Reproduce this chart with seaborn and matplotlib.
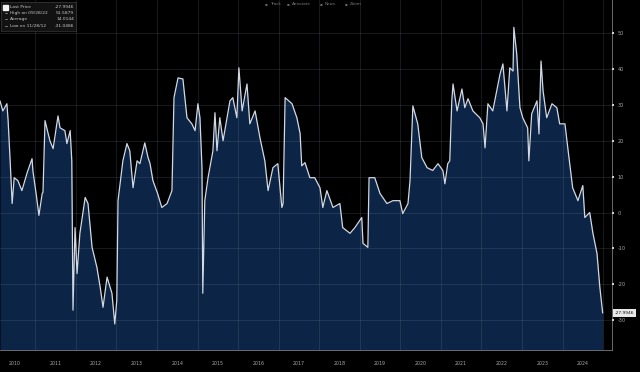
import matplotlib
matplotlib.use("Agg")
import matplotlib.pyplot as plt
import numpy as np
import pandas as pd
import seaborn as sns
from matplotlib.transforms import blended_transform_factory

# ---- data (decimal year, value) ----
dates = [
    2010.13, 2010.20, 2010.30, 2010.33, 2010.38, 2010.43, 2010.48, 2010.57, 2010.67, 2010.80,
    2010.92, 2010.94, 2011.02, 2011.09, 2011.17, 2011.19, 2011.24, 2011.36, 2011.44, 2011.56,
    2011.61, 2011.73, 2011.78, 2011.86, 2011.90, 2011.93, 2011.98, 2012.03, 2012.10, 2012.23,
    2012.30, 2012.40, 2012.52, 2012.60, 2012.67, 2012.77, 2012.89, 2012.96, 2013.01, 2013.04,
    2013.09, 2013.16, 2013.26, 2013.33, 2013.41, 2013.51, 2013.58, 2013.70, 2013.78, 2013.83,
    2013.90, 2014.01, 2014.12, 2014.25, 2014.37, 2014.42, 2014.52, 2014.64, 2014.74, 2014.86,
    2014.94, 2015.01, 2015.06, 2015.11, 2015.13, 2015.18, 2015.26, 2015.38, 2015.43, 2015.48,
    2015.55, 2015.63, 2015.80, 2015.87, 2015.97, 2016.02, 2016.10, 2016.22, 2016.29, 2016.42,
    2016.54, 2016.66, 2016.74, 2016.86, 2016.98, 2017.08, 2017.11, 2017.16, 2017.33, 2017.45,
    2017.53, 2017.57, 2017.65, 2017.77, 2017.89, 2018.02, 2018.09, 2018.19, 2018.34, 2018.51,
    2018.58, 2018.76, 2018.88, 2019.05, 2019.08, 2019.20, 2019.23, 2019.37, 2019.50, 2019.67,
    2019.82, 2019.99, 2020.06, 2020.19, 2020.24, 2020.31, 2020.43, 2020.53, 2020.66, 2020.80,
    2020.93, 2021.05, 2021.10, 2021.17, 2021.22, 2021.27, 2021.30, 2021.40, 2021.52, 2021.59,
    2021.67, 2021.79, 2021.96, 2022.04, 2022.09, 2022.16, 2022.28, 2022.46, 2022.53, 2022.63,
    2022.70, 2022.78, 2022.80, 2022.87, 2022.95, 2023.02, 2023.14, 2023.17, 2023.24, 2023.37,
    2023.42, 2023.47, 2023.52, 2023.61, 2023.74, 2023.86, 2023.93, 2024.06, 2024.13, 2024.25,
    2024.38, 2024.50, 2024.55, 2024.67, 2024.75, 2024.85, 2024.92, 2024.99,
]
values = [
    31.1, 28.3, 30.3, 25.6, 14.4, 2.5, 9.7, 8.9, 6.1, 11.1,
    15.0, 11.7, 5.3, -0.8, 5.3, 5.6, 25.6, 20.0, 17.8, 26.9,
    23.6, 22.8, 19.2, 22.8, 14.4, -27.2, -4.2, -17.0, -5.8, 4.2,
    2.5, -9.7, -15.3, -20.8, -26.4, -18.0, -22.5, -31.05, -24.4, 3.3,
    8.0, 14.4, 19.2, 17.2, 6.9, 14.4, 13.6, 19.4, 15.3, 13.6,
    8.9, 5.5, 1.4, 2.5, 6.1, 32.0, 37.5, 37.2, 26.4, 24.7,
    22.8, 30.3, 26.4, 12.5, -22.5, 3.3, 9.7, 17.2, 27.8, 17.2,
    26.4, 20.0, 31.1, 32.0, 26.4, 40.3, 28.3, 35.8, 24.7, 28.3,
    20.8, 14.4, 6.1, 12.5, 13.6, 1.4, 2.5, 32.0, 30.3, 26.4,
    22.0, 13.0, 13.9, 9.7, 9.7, 6.9, 1.4, 6.1, 1.4, 2.5,
    -4.2, -5.8, -4.2, -1.4, -8.6, -9.7, 9.7, 9.7, 5.3, 2.5,
    3.3, 3.3, -0.3, 2.5, 8.9, 29.7, 24.7, 15.3, 12.5, 11.7,
    13.6, 11.7, 8.0, 13.6, 14.4, 31.1, 35.8, 28.3, 34.4, 29.2,
    31.7, 28.3, 26.4, 24.7, 18.0, 30.3, 28.3, 38.6, 41.4, 28.3,
    40.3, 39.4, 51.59, 44.2, 29.2, 26.4, 23.6, 14.4, 27.5, 31.1,
    21.9, 42.2, 33.9, 26.4, 30.3, 29.2, 24.7, 24.7, 18.0, 6.9,
    3.3, 7.5, -1.4, 0.0, -5.8, -11.4, -20.8, -27.99,
]
year_labels = [str(y) for y in range(2010, 2025)]
y_ticks = [-30, -20, -10, 0, 10, 20, 30, 40, 50]
legend_names = ["Last Price", "High on 09/28/22", "Average", "Low on 11/28/12"]
legend_values = ["-27.9946", "51.5879", "14.0144", "-31.0486"]
toolbar_items = ["Track", "Annotate", "News", "Zoom"]
last_label = "-27.9946"

# ---- styling ----
sns.set_style("dark")
plt.rcParams["font.family"] = ["DejaVu Sans"]

FILL = "#0c2446"
LINE = "#d2d9e3"
TXT = "#a8a8a8"

W, H = 640, 372
fig = plt.figure(figsize=(W / 100, H / 100), dpi=100, facecolor="black")
ax = fig.add_axes([0, 22 / H, 612 / W, 1 - 22 / H])
ax.set_facecolor("black")

df = pd.DataFrame({"date": dates, "value": values})
ymin, ymax = -38.3, 59.2
ax.fill_between(df["date"], df["value"], ymin, color=FILL, linewidth=0, zorder=1)
sns.lineplot(data=df, x="date", y="value", ax=ax, color=LINE, linewidth=0.9,
             zorder=3, legend=False)

ax.set_xlim(2010.13, 2025.22)
ax.set_ylim(ymin, ymax)
ax.set_xlabel("")
ax.set_ylabel("")

# x axis: boundaries as major ticks, labels centred in each year
years = np.arange(2010, 2025)
ax.set_xticks(years[1:].tolist() + [2025])
ax.set_xticklabels([])
ax.set_xticks(years + 0.5, minor=True)
ax.set_xticklabels(year_labels, minor=True)
ax.tick_params(axis="x", which="major", length=15, width=0.6, color="#2e2e2e",
               direction="out")
ax.tick_params(axis="x", which="minor", length=0, pad=8, labelsize=3.4,
               labelcolor=TXT)

# y axis on right
ax.yaxis.tick_right()
ax.set_yticks(y_ticks)
ax.set_yticklabels([str(v) for v in y_ticks])
ax.tick_params(axis="y", which="major", length=1.5, width=1.5, color="#d0d0d0",
               labelsize=3.6, labelcolor=TXT, pad=2.5)

# grid
ax.set_axisbelow(False)
ax.grid(True, which="major", axis="both", color="#8090a0", alpha=0.22,
        linewidth=0.6)

for s in ["top", "left"]:
    ax.spines[s].set_visible(False)
for s in ["right", "bottom"]:
    ax.spines[s].set_visible(True)
    ax.spines[s].set_color("#7a7a7a")
    ax.spines[s].set_linewidth(0.6)

# last price marker on axis
tr = blended_transform_factory(ax.transAxes, ax.transData)
ax.text(1.004, values[-1], last_label, transform=tr, ha="left", va="center",
        fontsize=3.2, color="#111111", clip_on=False,
        bbox=dict(boxstyle="square,pad=0.35", fc="#e8e8e8", ec="none"))

# legend box (top-left)
leg_ax = fig.add_axes([1 / W, 1 - 31 / H, 75 / W, 29 / H])
leg_ax.set_facecolor("#121212")
for s in leg_ax.spines.values():
    s.set_color("#3a3a3a")
    s.set_linewidth(0.5)
leg_ax.set_xticks([])
leg_ax.set_yticks([])
leg_ax.set_xlim(0, 75)
leg_ax.set_ylim(29, 0)
for i, (n, v) in enumerate(zip(legend_names, legend_values)):
    yy = 5 + i * 6.2
    if i == 0:
        leg_ax.add_patch(plt.Rectangle((2, yy - 2.5), 5, 5, color="#f4f4f4"))
    else:
        leg_ax.plot([3.5, 5.5], [yy, yy], color="#909090", lw=0.6)
    leg_ax.text(9, yy, n, fontsize=3.2, color="#c8c8c8", va="center", ha="left")
    leg_ax.text(73, yy, v, fontsize=3.2, color="#c8c8c8", va="center", ha="right")

# toolbar at top
for xpx, t in zip([270, 292, 325, 350], toolbar_items):
    fig.text((xpx - 5) / W, 1 - 4 / H, "\u25aa", fontsize=3, color="#6a6a6a",
             ha="left", va="center")
    fig.text(xpx / W, 1 - 4 / H, t, fontsize=3, color="#7a7a7a", ha="left",
             va="center")

fig.savefig("out.png", dpi=100, facecolor="black")
